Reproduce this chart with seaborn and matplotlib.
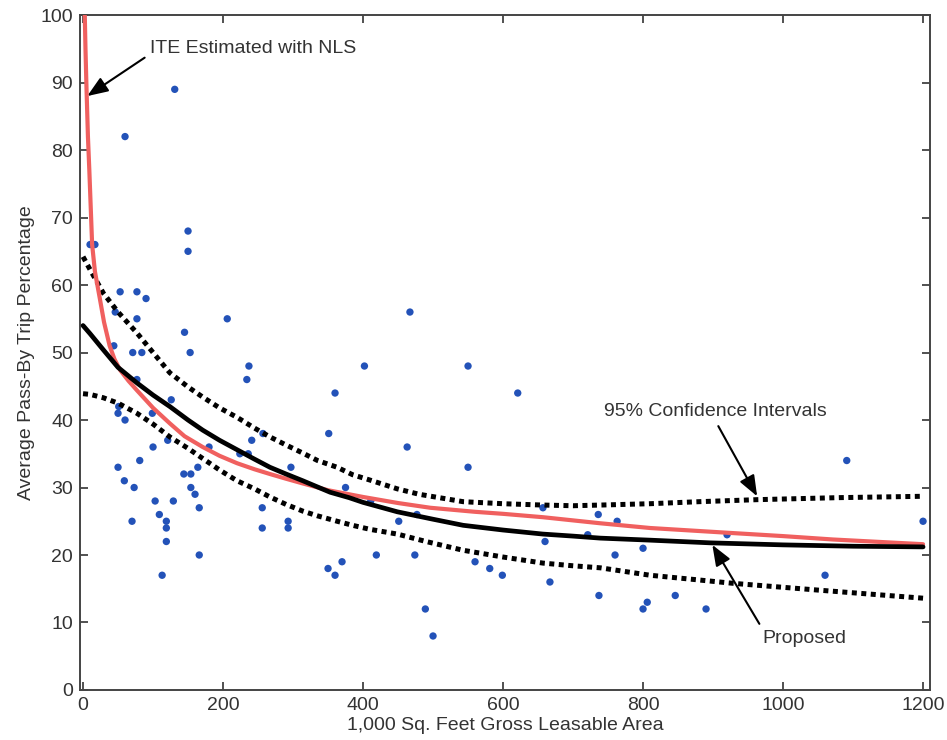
import pandas as pd
import matplotlib
matplotlib.use("Agg")
import matplotlib.pyplot as plt
import seaborn as sns

# observed sites (1,000 sq ft GLA, pass-by %)
site_gla = [10, 17, 131, 60, 150, 150, 53, 77, 90, 46, 77, 206, 145, 44, 71, 84, 153,
            237, 402, 550, 77, 234, 126, 360, 621, 467, 51, 50, 60, 99, 257, 351, 241,
            121, 100, 180, 463, 224, 236, 81, 50, 297, 550, 144, 154, 164, 59, 73, 154,
            375, 160, 166, 103, 129, 109, 119, 119, 119, 70, 166, 113, 256, 293, 293,
            256, 350, 370, 360, 411, 477, 451, 657, 736, 763, 721, 660, 800, 760, 419,
            474, 560, 581, 599, 667, 737, 800, 806, 489, 500, 1091, 1200, 920, 1060,
            846, 890]
site_passby = [66, 66, 89, 82, 68, 65, 59, 59, 58, 56, 55, 55, 53, 51, 50, 50, 50,
               48, 48, 48, 46, 46, 43, 44, 44, 56, 42, 41, 40, 41, 38, 38, 37,
               37, 36, 36, 36, 35, 35, 34, 33, 33, 33, 32, 32, 33, 31, 30, 30,
               30, 29, 27, 28, 28, 26, 25, 24, 22, 25, 20, 17, 27, 25, 24,
               24, 18, 19, 17, 28, 26, 25, 27, 26, 25, 23, 22, 21, 20, 20,
               20, 19, 18, 17, 16, 14, 12, 13, 12, 8, 34, 25, 23, 17,
               14, 12]

# ITE curve estimated with NLS
ite_x = [2.5, 3.5, 5, 7, 9, 13, 17, 24, 30, 38, 45, 53, 65, 77, 100, 124, 145, 171,
         195, 220, 245, 267, 290, 314, 350, 400, 450, 496, 560, 600, 657, 739, 810,
         920, 1000, 1071, 1200]
ite_y = [100, 95, 89, 82, 77, 66, 62, 58, 54.5, 51, 49, 47.4, 45.8, 44.4, 41.8, 39.5,
         37.6, 36, 34.7, 33.6, 32.7, 32, 31.3, 30.6, 29.6, 28.6, 27.7, 27, 26.4, 26.1,
         25.6, 24.7, 24, 23.3, 22.8, 22.3, 21.6]

# proposed model
prop_x = [0, 10, 29, 50, 77, 100, 124, 150, 171, 195, 220, 245, 267, 290, 314, 330,
          353, 380, 400, 449, 500, 543, 600, 657, 700, 739, 810, 896, 1000, 1100, 1200]
prop_y = [54, 52.8, 50.4, 47.8, 45.5, 43.7, 42, 40, 38.5, 37, 35.6, 34.2, 33, 32, 31,
          30.3, 29.3, 28.5, 27.8, 26.4, 25.3, 24.4, 23.7, 23.1, 22.8, 22.5, 22.2, 21.8,
          21.5, 21.3, 21.2]

# 95% confidence intervals
ci_x_up = [0, 10, 29, 50, 77, 100, 124, 150, 171, 195, 220, 245, 267, 290, 314, 335,
           363, 385, 410, 449, 480, 543, 600, 657, 700, 739, 810, 880, 963, 1080, 1200]
ci_y_up = [64.2, 62.3, 58.8, 56, 52.9, 50, 47, 44.9, 43.4, 41.8, 40.4, 38.8, 37.5, 36.3,
           35.1, 34, 33, 31.9, 31.1, 29.8, 29, 27.9, 27.6, 27.4, 27.3, 27.4, 27.6, 27.9,
           28.2, 28.5, 28.7]
ci_x_lo = [0, 10, 29, 50, 77, 100, 124, 150, 171, 195, 220, 245, 267, 290, 314, 335,
           363, 385, 410, 449, 490, 543, 600, 657, 700, 739, 810, 870, 929, 1050, 1200]
ci_y_lo = [43.9, 43.8, 43.3, 42.5, 41, 39.4, 37.5, 35.8, 34.3, 32.6, 31, 29.8, 28.6,
           27.5, 26.5, 25.8, 25, 24.4, 23.8, 23.1, 22, 20.7, 19.7, 18.8, 18.4, 18.1, 17,
           16.4, 15.8, 14.8, 13.6]

sns.set_style("ticks")
plt.rcParams["font.family"] = ["Liberation Sans", "DejaVu Sans"]

fig = plt.figure(figsize=(9.47, 7.4), dpi=100)
ax = fig.add_axes([0.0845, 0.0676, 0.8976, 0.912])

pts = pd.DataFrame({"gla": site_gla, "passby": site_passby})
sns.scatterplot(data=pts, x="gla", y="passby", color="#2352b8", s=28,
                edgecolor="none", ax=ax, zorder=2)

dot = (0, (1, 0.9))
sns.lineplot(x=ci_x_up, y=ci_y_up, color="black", lw=3.6, linestyle=dot, ax=ax,
             sort=False, zorder=3)
sns.lineplot(x=ci_x_lo, y=ci_y_lo, color="black", lw=3.6, linestyle=dot, ax=ax,
             sort=False, zorder=3)
sns.lineplot(x=ite_x, y=ite_y, color="#f0605f", lw=3, ax=ax, sort=False, zorder=4)
sns.lineplot(x=prop_x, y=prop_y, color="black", lw=3.4, ax=ax, sort=False, zorder=5)

def arrow(rel):
    return dict(arrowstyle="-|>,head_length=0.9,head_width=0.35", color="black",
                lw=1.5, shrinkA=2, shrinkB=0, relpos=rel)

ax.annotate("ITE Estimated with NLS", xy=(6, 88), xytext=(96, 95), fontsize=14,
            color="#333333", ha="left", va="center", arrowprops=arrow((0, 0.2)))
ax.annotate("95% Confidence Intervals", xy=(963, 28.7), xytext=(903, 41.2), fontsize=14,
            color="#333333", ha="center", va="center", arrowprops=arrow((0.5, 0)))
ax.annotate("Proposed", xy=(899, 21.5), xytext=(1031, 7.7), fontsize=14,
            color="#333333", ha="center", va="center", arrowprops=arrow((0, 1)))

ax.set_xlim(-4.3, 1210)
ax.set_ylim(0, 100)
ax.set_xticks(range(0, 1201, 200))
ax.set_yticks(range(0, 101, 10))
ax.tick_params(direction="in", top=True, right=True, length=6, width=1.2,
               labelsize=14, colors="#333333", pad=5)
for sp in ax.spines.values():
    sp.set_visible(True)
    sp.set_color("#444444")
    sp.set_linewidth(1.4)

ax.set_xlabel("1,000 Sq. Feet Gross Leasable Area", fontsize=14, color="#333333", labelpad=2)
ax.set_ylabel("Average Pass-By Trip Percentage", fontsize=14, color="#333333", labelpad=4)

fig.savefig("out.png", dpi=100)
